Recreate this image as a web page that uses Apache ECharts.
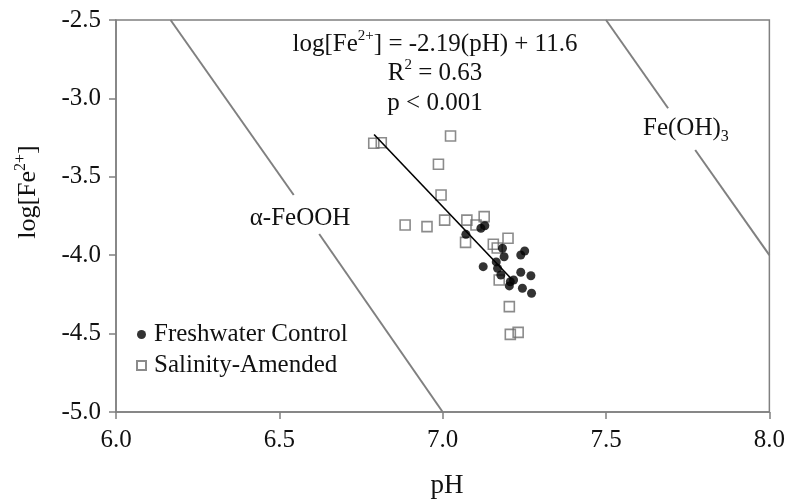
<!DOCTYPE html>
<html>
<head>
<meta charset="utf-8">
<script src="https://cdn.jsdelivr.net/npm/echarts@6/dist/echarts.min.js"></script>
<style>
  html, body { margin: 0; padding: 0; background: #fff; }
  #chart { width: 788px; height: 500px; }
</style>
</head>
<body>
<div id="chart"></div>
<script>
// [pH, log[Fe2+]]
var freshwater = [
  [7.071, -3.867], [7.117, -3.828], [7.129, -3.812], [7.124, -4.073],
  [7.183, -3.956], [7.188, -4.010], [7.164, -4.043], [7.168, -4.084],
  [7.178, -4.126], [7.207, -4.169], [7.217, -4.158], [7.204, -4.196],
  [7.239, -3.999], [7.251, -3.973], [7.239, -4.109], [7.270, -4.131],
  [7.244, -4.211], [7.272, -4.243]
]
var salinity = [
  [6.789, -3.286], [6.812, -3.283], [7.024, -3.240], [6.987, -3.420],
  [6.995, -3.616], [6.885, -3.807], [6.952, -3.818], [7.006, -3.776],
  [7.074, -3.776], [7.102, -3.807], [7.127, -3.754], [7.070, -3.918],
  [7.155, -3.930], [7.167, -3.954], [7.200, -3.892], [7.173, -4.158],
  [7.204, -4.328], [7.207, -4.505], [7.231, -4.492]
]
// fitted line log[Fe2+] = -2.19(pH) + 11.6, ends as drawn
var regLine = [[6.79, -3.23], [7.21, -4.15]]
// stability boundaries, split where the labels sit
var feoohUpper = [[6.167, -2.5], [6.544, -3.616]]
var feoohLower = [[6.622, -3.865], [7.0, -5.0]]
var feoh3Upper = [[7.5, -2.5], [7.690, -3.063]]
var feoh3Lower = [[7.773, -3.329], [8.0, -4.0]]

var xTicks = { min: 6.0, max: 8.0, interval: 0.5 }
var yTicks = { min: -5.0, max: -2.5, interval: 0.5 }

var serif = 'Liberation Serif'
var ink = '#111'
var gray = '#808080'

function boundary(data) {
  return {
    type: 'line',
    data: data,
    showSymbol: false,
    silent: true,
    lineStyle: { color: gray, width: 2 },
    z: 1
  }
}

var chart = echarts.init(document.getElementById('chart'), null, { renderer: 'canvas' })
var option = {
  animation: false,
  grid: {
    left: 116, right: 17, top: 20, bottom: 88,
    show: true, borderColor: gray, borderWidth: 1.5
  },
  legend: {
    data: ['Freshwater Control', 'Salinity-Amended'],
    orient: 'vertical',
    left: 136,
    top: 319,
    padding: 0,
    itemGap: 0,
    itemWidth: 9,
    itemHeight: 9,
    textStyle: {
      fontFamily: serif, fontSize: 25, color: ink,
      lineHeight: 31, padding: [0, 0, 0, 3]
    }
  },
  xAxis: {
    type: 'value',
    min: xTicks.min, max: xTicks.max, interval: xTicks.interval,
    splitLine: { show: false },
    axisLine: { lineStyle: { color: gray, width: 1.5 } },
    axisTick: { length: 7, lineStyle: { color: gray, width: 1.5 } },
    axisLabel: {
      margin: 16, fontFamily: serif, fontSize: 25, color: ink,
      formatter: function (v) { return v.toFixed(1) }
    }
  },
  yAxis: {
    type: 'value',
    min: yTicks.min, max: yTicks.max, interval: yTicks.interval,
    splitLine: { show: false },
    axisLine: { lineStyle: { color: gray, width: 1.5 } },
    axisTick: { length: 7, lineStyle: { color: gray, width: 1.5 } },
    axisLabel: {
      margin: 15, fontFamily: serif, fontSize: 25, color: ink,
      formatter: function (v) { return v.toFixed(1) }
    }
  },
  series: [
    boundary(feoohUpper),
    boundary(feoohLower),
    boundary(feoh3Upper),
    boundary(feoh3Lower),
    {
      name: 'Salinity-Amended',
      type: 'scatter',
      data: salinity,
      symbol: 'rect',
      symbolSize: 10,
      itemStyle: { color: 'rgba(255,255,255,0)', borderColor: '#6e6e6e', borderWidth: 1.6 },
      z: 2
    },
    {
      type: 'line',
      data: regLine,
      showSymbol: false,
      silent: true,
      lineStyle: { color: '#000', width: 1.6 },
      z: 3
    },
    {
      name: 'Freshwater Control',
      type: 'scatter',
      data: freshwater,
      symbol: 'circle',
      symbolSize: 9,
      itemStyle: { color: '#000' },
      z: 4
    }
  ],
  graphic: [
    {
      type: 'text', x: 435, y: 44,
      style: {
        text: 'log[Fe{sup|2+}] = -2.19(pH) + 11.6',
        font: '25px ' + serif, fill: ink, align: 'center', verticalAlign: 'middle',
        lineHeight: 30,
        rich: { sup: { fontSize: 15, fontFamily: serif, verticalAlign: 'top', lineHeight: 14, fill: ink } }
      }
    },
    {
      type: 'text', x: 435, y: 73,
      style: {
        text: 'R{sup|2} = 0.63',
        font: '25px ' + serif, fill: ink, align: 'center', verticalAlign: 'middle',
        lineHeight: 30,
        rich: { sup: { fontSize: 15, fontFamily: serif, verticalAlign: 'top', lineHeight: 14, fill: ink } }
      }
    },
    {
      type: 'text', x: 435, y: 103,
      style: {
        text: 'p < 0.001',
        font: '25px ' + serif, fill: ink, align: 'center', verticalAlign: 'middle'
      }
    },
    {
      type: 'text', x: 643, y: 128,
      style: {
        text: 'Fe(OH){sub|3}',
        font: '25px ' + serif, fill: ink, align: 'left', verticalAlign: 'middle',
        lineHeight: 34,
        rich: { sub: { fontSize: 16, fontFamily: serif, verticalAlign: 'bottom', lineHeight: 12, fill: ink } }
      }
    },
    {
      type: 'text', x: 300, y: 218,
      style: {
        text: 'α-FeOOH',
        font: '25px ' + serif, fill: ink, align: 'center', verticalAlign: 'middle'
      }
    },
    {
      type: 'text', x: 447, y: 486,
      style: {
        text: 'pH',
        font: '27px ' + serif, fill: ink, align: 'center', verticalAlign: 'middle'
      }
    },
    {
      type: 'text', x: 28, y: 192, rotation: Math.PI / 2,
      style: {
        text: 'log[Fe{sup|2+}]',
        font: '26px ' + serif, fill: ink, align: 'center', verticalAlign: 'middle',
        lineHeight: 30,
        rich: { sup: { fontSize: 16, fontFamily: serif, verticalAlign: 'top', lineHeight: 14, fill: ink } }
      }
    }
  ]
}
chart.setOption(option)
</script>
</body>
</html>
